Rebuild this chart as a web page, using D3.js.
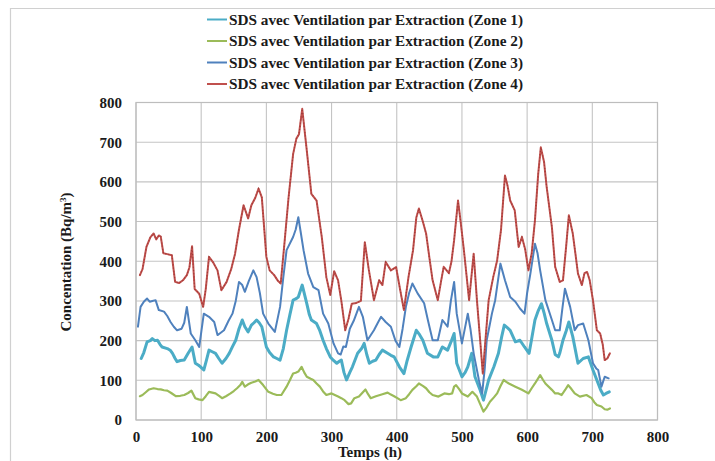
<!DOCTYPE html>
<html><head><meta charset="utf-8">
<script src="https://cdn.jsdelivr.net/npm/d3@7"></script>
<style>
html,body{margin:0;padding:0;background:#fff;}
svg{display:block;}
svg text{font-family:"Liberation Serif","Times New Roman",serif !important;font-weight:bold;}
</style></head>
<body><svg id="c" width="715" height="461"></svg>
<script>
const seriesNames = [
  "SDS avec Ventilation par Extraction (Zone 1)",
  "SDS avec Ventilation par Extraction (Zone 2)",
  "SDS avec Ventilation par Extraction (Zone 3)",
  "SDS avec Ventilation par Extraction (Zone 4)"
];
const seriesColors = ["#4bacc6", "#9bbb59", "#4f81bd", "#c0504d"];
const xTicks = [0,100,200,300,400,500,600,700,800];
const yTicks = [0,100,200,300,400,500,600,700,800];

// [hour, Bq/m3]
const zone1 = [[8,155],[12,170],[17,197],[22,200],[25,205],[29,200],[33,201],[37,190],[40,184],[48,180],[53,175],[56,168],[60,155],[63,147],[68,150],[74,151],[80,168],[86,184],[91,143],[96,138],[99,134],[104,126],[108,150],[112,176],[117,172],[122,168],[127,155],[132,143],[138,155],[143,168],[148,185],[153,201],[158,230],[163,252],[167,235],[172,222],[177,239],[181,245],[185,252],[189,245],[193,235],[200,184],[205,170],[211,159],[216,155],[221,151],[226,180],[231,226],[236,265],[241,302],[245,305],[249,310],[255,340],[262,293],[266,265],[269,252],[277,243],[282,225],[287,201],[292,180],[298,159],[303,150],[308,143],[312,148],[315,151],[319,120],[323,101],[328,120],[332,134],[340,168],[346,180],[350,193],[354,165],[358,143],[363,148],[368,151],[373,165],[378,176],[386,168],[391,163],[396,159],[404,134],[411,117],[416,150],[422,184],[430,226],[435,215],[440,201],[447,168],[456,159],[463,159],[470,184],[478,176],[484,200],[488,218],[492,143],[500,109],[505,120],[509,134],[515,168],[520,109],[528,75],[533,50],[537,75],[541,101],[549,134],[556,168],[561,210],[565,239],[570,232],[574,226],[582,197],[589,201],[596,184],[603,168],[607,205],[612,252],[617,275],[622,293],[626,270],[630,243],[638,201],[643,165],[648,159],[650,168],[655,201],[660,225],[664,247],[670,210],[678,143],[686,155],[694,159],[701,126],[709,92],[713,75],[717,63],[721,67],[726,71]];

const zone2 = [[6,60],[10,63],[15,70],[20,77],[27,80],[33,78],[38,77],[43,75],[48,74],[54,68],[61,60],[68,61],[74,63],[80,68],[85,74],[91,55],[96,52],[102,50],[107,60],[112,71],[117,69],[122,67],[128,60],[132,55],[138,60],[145,67],[150,73],[155,80],[160,88],[163,96],[167,84],[172,90],[177,94],[183,97],[188,101],[195,88],[203,71],[210,66],[216,63],[223,63],[231,84],[236,100],[241,117],[245,119],[249,122],[254,134],[258,120],[262,109],[268,104],[272,101],[277,92],[282,84],[287,72],[292,63],[300,67],[305,63],[310,59],[315,55],[320,50],[326,40],[330,42],[335,55],[342,59],[347,68],[352,77],[356,65],[360,55],[368,60],[378,65],[386,69],[391,64],[396,60],[401,55],[406,50],[414,55],[419,65],[424,76],[430,85],[434,92],[440,86],[445,80],[450,70],[455,63],[464,59],[473,67],[480,65],[485,67],[488,84],[491,88],[496,77],[500,67],[509,59],[516,71],[523,59],[528,40],[533,21],[538,32],[543,46],[549,57],[554,67],[559,85],[564,101],[568,96],[572,92],[582,84],[592,76],[602,67],[607,80],[612,92],[620,113],[624,102],[628,92],[638,76],[643,67],[648,67],[653,63],[658,75],[663,88],[668,78],[673,67],[681,59],[691,63],[699,55],[703,45],[707,38],[714,34],[719,27],[723,26],[727,29]];

const zone3 = [[3,235],[7,285],[12,298],[17,306],[21,298],[25,300],[30,302],[35,277],[43,273],[48,262],[53,247],[58,235],[63,226],[70,230],[74,245],[78,285],[84,218],[91,201],[97,184],[104,268],[112,260],[120,247],[125,214],[130,220],[135,226],[142,250],[148,268],[153,300],[158,348],[163,340],[167,323],[173,350],[180,377],[185,360],[190,320],[195,268],[203,243],[213,222],[221,285],[226,360],[231,428],[241,461],[245,480],[249,511],[253,470],[257,428],[264,369],[272,335],[280,327],[287,268],[295,243],[303,193],[310,168],[314,165],[318,185],[322,184],[328,230],[334,250],[342,285],[348,260],[355,201],[365,226],[371,245],[376,260],[383,247],[391,235],[398,200],[404,184],[409,230],[414,285],[419,320],[424,344],[432,319],[442,294],[448,250],[455,201],[463,201],[470,252],[478,235],[483,300],[488,348],[492,268],[500,193],[509,268],[513,230],[518,168],[526,101],[531,67],[535,130],[538,201],[546,268],[551,302],[559,394],[566,352],[574,310],[582,298],[589,281],[596,268],[600,320],[605,369],[612,444],[616,420],[620,377],[628,302],[638,252],[643,226],[650,226],[654,280],[658,331],[666,285],[673,226],[678,239],[686,243],[694,201],[701,143],[706,130],[709,126],[714,84],[719,109],[725,105]];

const zone4 = [[6,365],[10,380],[16,436],[22,460],[27,470],[31,455],[35,465],[38,462],[42,420],[48,418],[55,415],[60,348],[66,345],[72,352],[78,365],[82,385],[86,438],[90,330],[97,318],[103,285],[107,330],[112,411],[118,398],[125,377],[131,327],[139,348],[146,380],[152,419],[158,480],[165,541],[172,508],[177,541],[183,560],[188,583],[193,561],[200,411],[205,377],[212,365],[218,350],[222,344],[228,450],[234,560],[241,670],[246,709],[250,720],[255,784],[262,679],[269,570],[277,553],[285,461],[292,360],[298,315],[304,375],[310,352],[315,300],[321,226],[326,255],[331,293],[338,295],[345,300],[351,448],[357,380],[365,302],[373,352],[378,340],[383,398],[391,377],[399,385],[405,330],[411,277],[418,360],[425,428],[430,510],[434,533],[440,500],[445,470],[450,410],[455,352],[463,302],[468,350],[472,386],[480,370],[484,400],[488,453],[494,553],[498,500],[503,428],[511,302],[518,419],[523,302],[528,200],[532,117],[536,200],[541,302],[548,360],[554,402],[560,480],[566,616],[570,590],[574,553],[581,528],[587,436],[592,461],[597,430],[602,377],[607,420],[612,503],[617,620],[621,687],[626,650],[630,587],[638,486],[643,386],[650,348],[655,352],[660,440],[664,516],[670,470],[674,420],[678,369],[684,340],[688,370],[692,373],[696,352],[701,302],[707,226],[712,218],[716,190],[719,151],[723,155],[727,168]];

const allSeries = [zone1, zone2, zone3, zone4];

const svg = d3.select("#c");
const pLeft = 136, pRight = 657.5, pTop = 102.5, pBottom = 420;
const x = d3.scaleLinear().domain([0,800]).range([pLeft,pRight]);
const y = d3.scaleLinear().domain([0,800]).range([pBottom,pTop]);

// outer frame
svg.append("path").attr("d","M10.5,461 L10.5,8.5 L715,8.5").attr("fill","none").attr("stroke","#d0d0d0").attr("stroke-width",1.2);

// gridlines
const g = svg.append("g");
g.selectAll(".gy").data(yTicks).enter().append("line")
  .attr("x1",pLeft).attr("x2",pRight).attr("y1",d=>y(d)).attr("y2",d=>y(d))
  .attr("stroke","#c4c4c4").attr("stroke-width",1.1);
g.selectAll(".gx").data(xTicks).enter().append("line")
  .attr("y1",pTop).attr("y2",pBottom).attr("x1",d=>x(d)).attr("x2",d=>x(d))
  .attr("stroke","#c4c4c4").attr("stroke-width",1.1);
g.append("rect").attr("x",pLeft).attr("y",pTop).attr("width",pRight-pLeft).attr("height",pBottom-pTop)
  .attr("fill","none").attr("stroke","#bdbdbd").attr("stroke-width",1.2);

// axes
const xAxis = d3.axisBottom(x).tickValues(xTicks).tickSize(0).tickPadding(11);
const yAxis = d3.axisLeft(y).tickValues(yTicks).tickSize(0).tickPadding(14);
const xa = svg.append("g").attr("transform",`translate(0,${pBottom})`).call(xAxis);
const ya = svg.append("g").attr("transform",`translate(${pLeft},0)`).call(yAxis);
[xa,ya].forEach(a=>{
  a.select(".domain").remove();
  a.selectAll("text").attr("font-size",15).attr("fill","#1a1a1a");
});

svg.append("text").attr("x",370).attr("y",457).attr("text-anchor","middle")
  .attr("font-size",15).attr("fill","#1a1a1a").text("Temps (h)");
svg.append("text").attr("transform","translate(71,262) rotate(-90)").attr("text-anchor","middle")
  .attr("font-size",15).attr("fill","#1a1a1a")
  .html('Concentation (Bq/m<tspan baseline-shift="super" font-size="9">3</tspan>)');

// lines
const line = d3.line().x(d=>x(d[0])).y(d=>y(d[1]));
const widths = [3, 2.2, 2, 2];
allSeries.forEach((s,i)=>{
  svg.append("path").datum(s).attr("d",line).attr("fill","none")
    .attr("stroke",seriesColors[i]).attr("stroke-width",widths[i])
    .attr("stroke-linejoin","round").attr("stroke-linecap","round");
});
// red markers look (dotted overlay)
svg.append("path").datum(zone4).attr("d",line).attr("fill","none")
  .attr("stroke","#9e3a37").attr("stroke-width",1.2).attr("stroke-dasharray","1,2.2");

// legend
const legY = [19.5, 41, 62.5, 84];
const leg = svg.append("g");
seriesNames.forEach((n,i)=>{
  leg.append("line").attr("x1",207).attr("x2",227).attr("y1",legY[i]).attr("y2",legY[i])
    .attr("stroke",seriesColors[i]).attr("stroke-width",2);
  leg.append("text").attr("x",229).attr("y",legY[i]).attr("dy","0.35em")
    .attr("font-size",14.5).attr("fill","#1a1a1a")
    .attr("textLength",294).attr("lengthAdjust","spacingAndGlyphs").text(n);
});
</script></body></html>
